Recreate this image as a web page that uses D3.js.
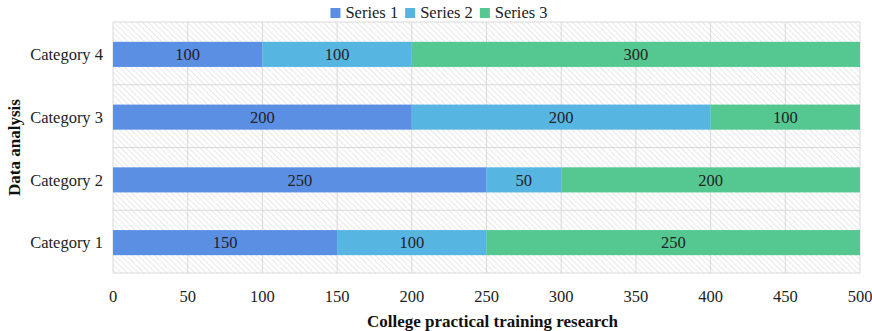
<!DOCTYPE html>
<html>
<head>
<meta charset="utf-8">
<script src="https://cdn.jsdelivr.net/npm/d3@7"></script>
<style>
  html, body { margin: 0; padding: 0; background: #fff; }
  svg { display: block; font-family: "Liberation Serif", "Times New Roman", serif; }
</style>
</head>
<body>
<svg id="chart" width="872" height="331"></svg>
<script>
// Chart data
const categories = ["Category 1", "Category 2", "Category 3", "Category 4"];
const seriesNames = ["Series 1", "Series 2", "Series 3"];
const series1 = [150, 250, 200, 100];
const series2 = [100, 50, 200, 100];
const series3 = [250, 200, 100, 300];
const xTicks = [0, 50, 100, 150, 200, 250, 300, 350, 400, 450, 500];
const colors = ["#5B8FE4", "#57B5E2", "#55C891"];

const svg = d3.select("#chart");
const margin = { top: 22, right: 12, bottom: 58, left: 113 };
const W = 872, H = 331;
const iw = W - margin.left - margin.right;
const ih = H - margin.top - margin.bottom;

// Diagonal hatch used for the plot background
const defs = svg.append("defs");
const pat = defs.append("pattern")
  .attr("id", "hatch")
  .attr("patternUnits", "userSpaceOnUse")
  .attr("width", 4).attr("height", 4)
  .attr("patternTransform", "rotate(-45)");
pat.append("rect").attr("width", 4).attr("height", 4).attr("fill", "#fff");
pat.append("line").attr("x1", 0).attr("y1", 0).attr("x2", 0).attr("y2", 4)
  .attr("stroke", "#dcdcdc").attr("stroke-width", 1.3);

const g = svg.append("g").attr("transform", `translate(${margin.left},${margin.top})`);

const x = d3.scaleLinear().domain([0, 500]).range([0, iw]);
const y = d3.scaleBand().domain(categories.slice().reverse()).range([0, ih]).paddingInner(0).paddingOuter(0);

g.append("rect").attr("width", iw).attr("height", ih).attr("fill", "url(#hatch)");

// Vertical gridlines
g.append("g").selectAll("line").data(xTicks).join("line")
  .attr("x1", d => x(d)).attr("x2", d => x(d))
  .attr("y1", 0).attr("y2", ih)
  .attr("stroke", "#d9d9d9").attr("stroke-width", 1);

// Horizontal lines separating categories
const bounds = d3.range(categories.length + 1).map(i => i * y.step());
g.append("g").selectAll("line").data(bounds).join("line")
  .attr("x1", 0).attr("x2", iw)
  .attr("y1", d => d).attr("y2", d => d)
  .attr("stroke", "#d9d9d9").attr("stroke-width", 1);

// Stacked bars
const rows = categories.map((c, i) => ({ cat: c, s0: series1[i], s1: series2[i], s2: series3[i] }));
const stack = d3.stack().keys(["s0", "s1", "s2"])(rows);
const barH = y.bandwidth() * 0.4;

stack.forEach((layer, k) => {
  const lg = g.append("g");
  lg.selectAll("rect").data(layer).join("rect")
    .attr("x", d => x(d[0]))
    .attr("width", d => x(d[1]) - x(d[0]))
    .attr("y", d => y(d.data.cat) + (y.bandwidth() - barH) / 2 + 1)
    .attr("height", barH)
    .attr("fill", colors[k]);
  lg.selectAll("text").data(layer).join("text")
    .attr("x", d => (x(d[0]) + x(d[1])) / 2)
    .attr("y", d => y(d.data.cat) + y.bandwidth() / 2 + 1)
    .attr("dy", "0.35em")
    .attr("text-anchor", "middle")
    .attr("font-size", 16.5)
    .attr("fill", "#222")
    .text(d => d[1] - d[0]);
});

// X axis tick labels
g.append("g").selectAll("text").data(xTicks).join("text")
  .attr("x", d => x(d)).attr("y", ih + 29)
  .attr("text-anchor", "middle")
  .attr("font-size", 16.5)
  .attr("fill", "#222")
  .text(d => d);

// Category labels
g.append("g").selectAll("text").data(categories).join("text")
  .attr("x", -10)
  .attr("y", d => y(d) + y.bandwidth() / 2 + 1)
  .attr("dy", "0.35em")
  .attr("text-anchor", "end")
  .attr("font-size", 16.5)
  .attr("fill", "#222")
  .text(d => d);

// Axis titles
svg.append("text")
  .attr("x", margin.left + iw / 2 + 6).attr("y", 327)
  .attr("text-anchor", "middle")
  .attr("font-size", 17).attr("font-weight", "bold")
  .attr("fill", "#111")
  .text("College practical training research");

svg.append("text")
  .attr("transform", `translate(20,${margin.top + ih / 2}) rotate(-90)`)
  .attr("text-anchor", "middle")
  .attr("font-size", 17).attr("font-weight", "bold")
  .attr("fill", "#111")
  .text("Data analysis");

// Legend
const legend = svg.append("g");
const items = legend.selectAll("g").data(seriesNames).join("g");
items.append("rect").attr("width", 10).attr("height", 10).attr("y", -10)
  .attr("fill", (d, i) => colors[i]);
items.append("text").attr("x", 15).attr("y", 0)
  .attr("font-size", 16.5).attr("fill", "#222")
  .text(d => d);
let off = 0;
items.each(function () {
  d3.select(this).attr("transform", `translate(${off},0)`);
  off += this.getBBox().width + 7;
});
legend.attr("transform", `translate(${(W - (off - 7)) / 2 + 3},18)`);
</script>
</body>
</html>
